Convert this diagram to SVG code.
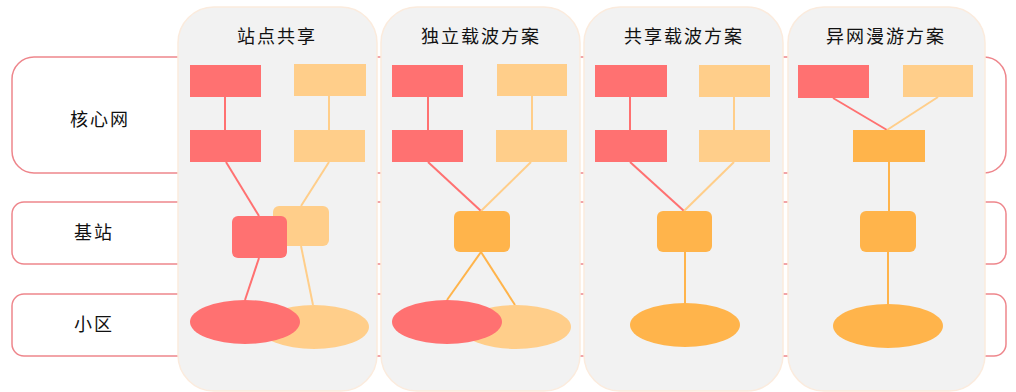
<svg xmlns="http://www.w3.org/2000/svg" width="1016" height="392" viewBox="0 0 1016 392">
<style>
.band{fill:#ffffff;stroke:#EE868C;stroke-width:1.5}
.col{fill:#F2F2F2;stroke:#FBEBDD;stroke-width:1.5}
.lbl{font-family:"Noto Sans CJK SC",sans-serif;font-size:18px;fill:#111;text-anchor:middle;letter-spacing:2px}
.red{fill:#FF7171}
.lt{fill:#FFCE8A}
.or{fill:#FFB44B}
.lr{stroke:#FF7171;stroke-width:2;fill:none}
.ll{stroke:#FFCE8A;stroke-width:2;fill:none}
.lo{stroke:#FFB44B;stroke-width:2;fill:none}
</style>
<g id="bands">
<rect class="band" x="12" y="57" width="994" height="116" rx="22"/>
<rect class="band" x="12" y="202" width="994" height="62" rx="12"/>
<rect class="band" x="12" y="294" width="994" height="62" rx="12"/>
<text class="lbl" x="100" y="126">核心网</text>
<text class="lbl" x="94" y="239">基站</text>
<text class="lbl" x="94" y="331">小区</text>
</g>
<g id="columns">
<rect class="col" x="178" y="7" width="199" height="384" rx="36"/>
<rect class="col" x="381" y="7" width="199" height="384" rx="36"/>
<rect class="col" x="584" y="7" width="199" height="384" rx="36"/>
<rect class="col" x="788" y="7" width="197" height="384" rx="36"/>
<text class="lbl" x="277" y="43">站点共享</text>
<text class="lbl" x="481" y="43">独立载波方案</text>
<text class="lbl" x="684" y="43">共享载波方案</text>
<text class="lbl" x="886" y="43">异网漫游方案</text>
</g>
<g id="connectors">
<line class="lr" x1="225" y1="97" x2="225" y2="130"/>
<line class="ll" x1="329" y1="96" x2="329" y2="130"/>
<line class="lr" x1="226" y1="162" x2="259" y2="216"/>
<line class="ll" x1="329" y1="162" x2="301" y2="206"/>
<line class="lr" x1="259" y1="258" x2="245" y2="300"/>
<line class="ll" x1="301" y1="246" x2="313" y2="305"/>
<line class="lr" x1="428" y1="97" x2="428" y2="130"/>
<line class="ll" x1="532" y1="96" x2="532" y2="130"/>
<line class="lr" x1="428" y1="162" x2="481" y2="211"/>
<line class="ll" x1="531" y1="162" x2="481" y2="211"/>
<line class="lo" x1="481" y1="252" x2="447" y2="300"/>
<line class="lo" x1="481" y1="252" x2="515" y2="305"/>
<line class="lr" x1="630" y1="97" x2="630" y2="130"/>
<line class="ll" x1="734" y1="96" x2="734" y2="130"/>
<line class="lr" x1="630" y1="162" x2="684" y2="211"/>
<line class="ll" x1="734" y1="162" x2="684" y2="211"/>
<line class="lo" x1="685" y1="252" x2="685" y2="303"/>
<line class="lr" x1="833" y1="98" x2="887" y2="130"/>
<line class="ll" x1="938" y1="97" x2="887" y2="130"/>
<line class="lo" x1="889" y1="162" x2="889" y2="211"/>
<line class="lo" x1="888" y1="252" x2="888" y2="304"/>
</g>
<g id="col1">
<rect class="red" x="190" y="65" width="71" height="32"/>
<rect class="lt" x="294" y="64" width="72" height="32"/>
<rect class="red" x="190" y="130" width="71" height="32"/>
<rect class="lt" x="294" y="130" width="71" height="32"/>
<rect class="lt" x="273" y="206" width="56" height="40" rx="6"/>
<rect class="red" x="232" y="216" width="55" height="42" rx="6"/>
<ellipse class="lt" cx="314" cy="327" rx="55" ry="22"/>
<ellipse class="red" cx="245" cy="322" rx="55" ry="22"/>
</g>
<g id="col2">
<rect class="red" x="392" y="65" width="71" height="32"/>
<rect class="lt" x="497" y="64" width="70" height="32"/>
<rect class="red" x="392" y="130" width="71" height="32"/>
<rect class="lt" x="496" y="130" width="71" height="32"/>
<rect class="or" x="454" y="211" width="56" height="41" rx="6"/>
<ellipse class="lt" cx="516" cy="327" rx="55" ry="22"/>
<ellipse class="red" cx="447" cy="322" rx="55" ry="22"/>
</g>
<g id="col3">
<rect class="red" x="595" y="65" width="72" height="32"/>
<rect class="lt" x="699" y="65" width="71" height="32"/>
<rect class="red" x="595" y="130" width="72" height="32"/>
<rect class="lt" x="699" y="130" width="71" height="32"/>
<rect class="or" x="657" y="211" width="55" height="41" rx="6"/>
<ellipse class="or" cx="685" cy="325" rx="55" ry="22"/>
</g>
<g id="col4">
<rect class="red" x="798" y="65" width="71" height="33"/>
<rect class="lt" x="903" y="65" width="70" height="32"/>
<rect class="or" x="853" y="130" width="72" height="32"/>
<rect class="or" x="860" y="211" width="56" height="41" rx="6"/>
<ellipse class="or" cx="888" cy="326" rx="55" ry="22"/>
</g>
</svg>
